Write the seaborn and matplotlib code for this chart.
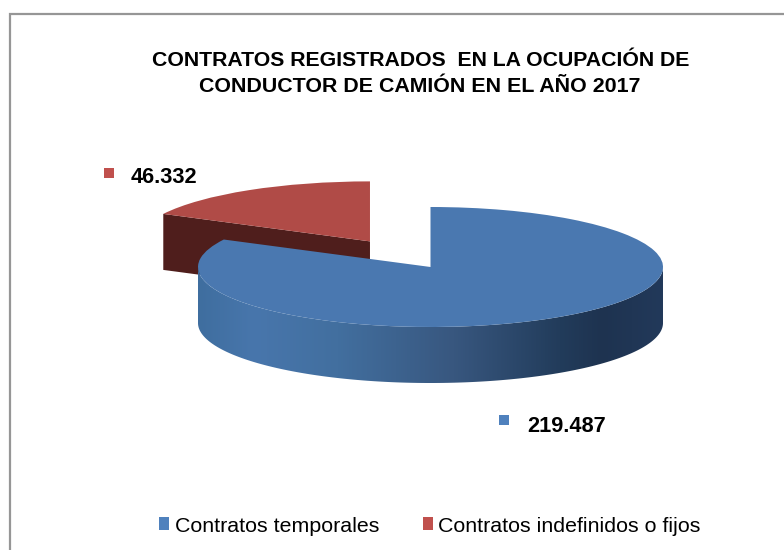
import numpy as np
import matplotlib
matplotlib.use('Agg')
import matplotlib.pyplot as plt
import seaborn as sns
from matplotlib.colors import LinearSegmentedColormap
from matplotlib.patches import Patch, Polygon, Rectangle

labels = ['Contratos temporales', 'Contratos indefinidos o fijos']
values = [219487, 46332]
value_labels = ['219.487', '46.332']
title_lines = ['CONTRATOS REGISTRADOS  EN LA OCUPACIÓN DE', 'CONDUCTOR DE CAMIÓN EN EL AÑO 2017']

top_colors = ['#4A78B0', '#B04B47']
legend_colors = ['#4F81BD', '#C0504D']
red_wall = '#4F1E1C'

W, H = 784, 550
# pie ellipse in pixels
cx, cy, rx, ry, depth_px = 430.5, 267, 232.5, 60, 56

sns.set_theme(style='white')
plt.rcParams['font.family'] = ['Liberation Sans', 'DejaVu Sans']


def fx(px):
    return px / W


def fy(py):
    return 1 - py / H


fig = plt.figure(figsize=(W / 100, H / 100), dpi=100, facecolor='white')
ax = fig.add_axes([0, 0, 1, 1])

wedges, _ = ax.pie(values, colors=top_colors, explode=[0, 0.5], startangle=90,
                   counterclock=False, frame=True, wedgeprops={'linewidth': 0})
depth = depth_px / ry

# dark cut face of the pulled out slice
red = wedges[1]
a = np.radians(red.theta2)
rim = (red.center[0] + np.cos(a), red.center[1] + np.sin(a))
ax.add_patch(Polygon([rim, red.center,
                      (red.center[0], red.center[1] - depth),
                      (rim[0], rim[1] - depth)],
                     closed=True, fc=red_wall, ec='none', zorder=1))
red.set_zorder(2)

# shaded rim of the big slice
t = np.radians(np.linspace(180, 360, 200))
rim_x, rim_y = np.cos(t), np.sin(t)
outline = np.column_stack([np.r_[rim_x, rim_x[::-1]],
                           np.r_[rim_y, rim_y[::-1] - depth]])
shade = LinearSegmentedColormap.from_list('rim', [
    (0.00, '#3F6E9F'), (0.12, '#4876AC'), (0.30, '#426F9F'),
    (0.55, '#38577F'), (0.78, '#223C5B'), (0.87, '#1E3350'), (1.00, '#22395A')])
im = ax.imshow(np.linspace(0, 1, 256).reshape(1, -1), cmap=shade, aspect='auto',
               extent=(-1, 1, -1 - depth, 0), zorder=3)
clip = Polygon(outline, closed=True, transform=ax.transData, fc='none', ec='none')
ax.add_patch(clip)
im.set_clip_path(clip)
wedges[0].set_zorder(4)

ax.set_aspect('auto')
ax.set_xlim((0 - cx) / rx, (W - cx) / rx)
ax.set_ylim((cy - H) / ry, cy / ry)
ax.axis('off')

# chart frame, runs off the right and bottom of the picture
fig.add_artist(Rectangle((fx(9.5), fy(600)), fx(840), fy(14) - fy(600), fill=False,
                         ec='#969696', lw=1.6, transform=fig.transFigure))

fig.text(fx(421), fy(66.5), title_lines[0], ha='center', va='baseline',
         fontsize=15.3, fontweight='bold', color='black')
fig.text(fx(419.5), fy(91.5), title_lines[1], ha='center', va='baseline',
         fontsize=15.4, fontweight='bold', color='black')

# data labels with their little squares
for txt, col, sq_x, sq_y, tx, ty in [(value_labels[0], legend_colors[0], 499, 415, 527, 431.7),
                                     (value_labels[1], legend_colors[1], 104, 168, 131, 182.7)]:
    fig.add_artist(Rectangle((fx(sq_x), fy(sq_y + 10)), fx(10), fy(sq_y) - fy(sq_y + 10),
                             fc=col, ec='none', transform=fig.transFigure))
    fig.text(fx(tx), fy(ty), txt, ha='left', va='baseline', fontsize=15.7,
             fontweight='bold', color='black')

handles = [Patch(fc=c, ec='none') for c in legend_colors]
fig.legend(handles, labels, ncol=2, frameon=False, loc='center',
           bbox_to_anchor=(fx(430), fy(526)), fontsize=15.4,
           handlelength=0.47, handleheight=0.56, handletextpad=0.25, columnspacing=2.05,
           labelcolor='black')

fig.savefig('out.png', dpi=100)
